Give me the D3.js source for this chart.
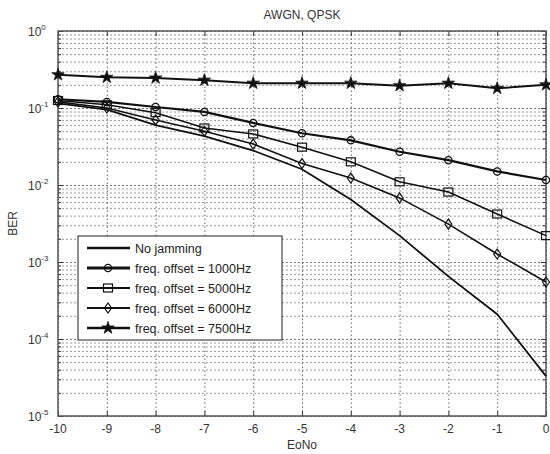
<!DOCTYPE html>
<html>
<head>
<meta charset="utf-8">
<script src="https://cdn.jsdelivr.net/npm/d3@7"></script>
<style>
  body { margin: 0; background: #fff; }
  svg { font-family: "Liberation Sans", Arial, sans-serif; }
</style>
</head>
<body>
<div id="chart"></div>
<script>
// data
let ebno = [-10, -9, -8, -7, -6, -5, -4, -3, -2, -1, 0]
let ber_nojam = [0.115, 0.095, 0.06, 0.043, 0.028, 0.016, 0.0065, 0.0022, 0.00065, 0.00021, 0.000033]
let ber_1000 = [0.13, 0.12, 0.103, 0.089, 0.064, 0.047, 0.038, 0.027, 0.021, 0.015, 0.0116]
let ber_5000 = [0.125, 0.11, 0.087, 0.055, 0.046, 0.031, 0.02, 0.011, 0.0081, 0.0042, 0.0022]
let ber_6000 = [0.12, 0.1, 0.07, 0.05, 0.034, 0.019, 0.0123, 0.0068, 0.0031, 0.00127, 0.00055]
let ber_7500 = [0.27, 0.25, 0.245, 0.23, 0.21, 0.21, 0.21, 0.195, 0.21, 0.18, 0.2]
let legend_labels = ['No jamming', 'freq. offset = 1000Hz', 'freq. offset = 5000Hz', 'freq. offset = 6000Hz', 'freq. offset = 7500Hz']
let x_ticks = [-10, -9, -8, -7, -6, -5, -4, -3, -2, -1, 0]
let y_exps = [0, -1, -2, -3, -4, -5]

let series = [
  { values: ber_nojam, marker: null, width: 1.8 },
  { values: ber_1000, marker: 'circle', width: 2.2 },
  { values: ber_5000, marker: 'square', width: 1.6 },
  { values: ber_6000, marker: 'diamond', width: 1.6 },
  { values: ber_7500, marker: 'star', width: 2.0 }
]

let W = 550, H = 454
let plotL = 58, plotR = 546, plotT = 31, plotB = 416

let svg = d3.select('#chart')
  .append('svg')
  .attr('width', W)
  .attr('height', H)

let x = d3.scaleLinear().domain([-10, 0]).range([plotL, plotR])
let y = d3.scaleLog().domain([1e-5, 1]).range([plotB, plotT])

// minor + major horizontal grid
let y_all = y.ticks()
let y_major = y_exps.map(e => Math.pow(10, e))
let y_minor = y_all.filter(v => !y_major.some(m => Math.abs(m - v) / v < 1e-6))

svg.append('g')
  .attr('transform', `translate(${plotL},0)`)
  .call(d3.axisLeft(y).tickValues(y_minor).tickSize(-(plotR - plotL)).tickFormat(''))
  .call(g => g.select('.domain').remove())
  .call(g => g.selectAll('line').attr('stroke', '#999').attr('stroke-dasharray', '2,2'))

svg.append('g')
  .attr('transform', `translate(${plotL},0)`)
  .call(d3.axisLeft(y).tickValues(y_major).tickSize(-(plotR - plotL)).tickFormat(''))
  .call(g => g.select('.domain').remove())
  .call(g => g.selectAll('line').attr('stroke', '#777').attr('stroke-dasharray', '2,2'))

// vertical grid
svg.append('g')
  .attr('transform', `translate(0,${plotB})`)
  .call(d3.axisBottom(x).tickValues(x_ticks).tickSize(-(plotB - plotT)).tickFormat(''))
  .call(g => g.select('.domain').remove())
  .call(g => g.selectAll('line').attr('stroke', '#666').attr('stroke-dasharray', '1.5,2.5'))

// inward ticks
svg.append('g')
  .attr('transform', `translate(0,${plotB})`)
  .call(d3.axisBottom(x).tickValues(x_ticks).tickSize(-5).tickFormat(''))
  .call(g => g.select('.domain').remove())
  .call(g => g.selectAll('line').attr('stroke', '#333'))
svg.append('g')
  .attr('transform', `translate(0,${plotT})`)
  .call(d3.axisTop(x).tickValues(x_ticks).tickSize(-5).tickFormat(''))
  .call(g => g.select('.domain').remove())
  .call(g => g.selectAll('line').attr('stroke', '#333'))
svg.append('g')
  .attr('transform', `translate(${plotL},0)`)
  .call(d3.axisLeft(y).tickValues(y_major).tickSize(-5).tickFormat(''))
  .call(g => g.select('.domain').remove())
  .call(g => g.selectAll('line').attr('stroke', '#333'))
svg.append('g')
  .attr('transform', `translate(${plotL},0)`)
  .call(d3.axisLeft(y).tickValues(y_minor).tickSize(-3).tickFormat(''))
  .call(g => g.select('.domain').remove())
  .call(g => g.selectAll('line').attr('stroke', '#333'))
svg.append('g')
  .attr('transform', `translate(${plotR},0)`)
  .call(d3.axisRight(y).tickValues(y_major).tickSize(-5).tickFormat(''))
  .call(g => g.select('.domain').remove())
  .call(g => g.selectAll('line').attr('stroke', '#333'))
svg.append('g')
  .attr('transform', `translate(${plotR},0)`)
  .call(d3.axisRight(y).tickValues(y_minor).tickSize(-3).tickFormat(''))
  .call(g => g.select('.domain').remove())
  .call(g => g.selectAll('line').attr('stroke', '#333'))

// frame
svg.append('rect')
  .attr('x', plotL)
  .attr('y', plotT)
  .attr('width', plotR - plotL)
  .attr('height', plotB - plotT)
  .attr('fill', 'none')
  .attr('stroke', '#555')
  .attr('stroke-width', 1.5)

// x tick labels
svg.append('g')
  .selectAll('text')
  .data(x_ticks)
  .join('text')
  .attr('x', d => x(d))
  .attr('y', plotB + 17)
  .attr('text-anchor', 'middle')
  .attr('font-size', 12)
  .attr('fill', '#333')
  .text(d => d)

// y tick labels 10^n
let ylab = svg.append('g')
  .selectAll('text')
  .data(y_exps)
  .join('text')
  .attr('x', plotL - 30)
  .attr('y', d => y(Math.pow(10, d)) + 5)
  .attr('font-size', 12)
  .attr('fill', '#333')
ylab.append('tspan').text('10')
ylab.append('tspan')
  .attr('dy', -6)
  .attr('font-size', 8)
  .text(d => d)

// titles
svg.append('text')
  .attr('x', (plotL + plotR) / 2)
  .attr('y', 19)
  .attr('text-anchor', 'middle')
  .attr('font-size', 12)
  .attr('fill', '#333')
  .text('AWGN, QPSK')
svg.append('text')
  .attr('x', (plotL + plotR) / 2)
  .attr('y', 449)
  .attr('text-anchor', 'middle')
  .attr('font-size', 12)
  .attr('fill', '#333')
  .text('EoNo')
svg.append('text')
  .attr('transform', `translate(17,${(plotT + plotB) / 2}) rotate(-90)`)
  .attr('text-anchor', 'middle')
  .attr('font-size', 12)
  .attr('fill', '#333')
  .text('BER')

// marker drawing helper
function drawMarker(g, type, cx, cy) {
  if (type === 'circle') {
    g.append('circle').attr('cx', cx).attr('cy', cy).attr('r', 3.6)
      .attr('fill', 'none').attr('stroke', '#111').attr('stroke-width', 1.3)
  } else if (type === 'square') {
    g.append('rect').attr('x', cx - 4.5).attr('y', cy - 4).attr('width', 9).attr('height', 8)
      .attr('fill', 'none').attr('stroke', '#111').attr('stroke-width', 1.2)
  } else if (type === 'diamond') {
    g.append('path').attr('d', `M${cx},${cy - 5} L${cx + 3.5},${cy} L${cx},${cy + 5} L${cx - 3.5},${cy} Z`)
      .attr('fill', 'none').attr('stroke', '#111').attr('stroke-width', 1.2)
  } else if (type === 'star') {
    g.append('path').attr('d', d3.symbol(d3.symbolStar, 48)())
      .attr('transform', `translate(${cx},${cy})`)
      .attr('fill', '#111').attr('stroke', '#111').attr('stroke-width', 0.8)
  }
}

// curves
let line = d3.line()
  .x(d => x(d[0]))
  .y(d => y(d[1]))

series.forEach(s => {
  let pts = ebno.map((e, i) => [e, s.values[i]])
  svg.append('path')
    .datum(pts)
    .attr('d', line)
    .attr('fill', 'none')
    .attr('stroke', '#111')
    .attr('stroke-width', s.width)
  if (s.marker) {
    let g = svg.append('g')
    pts.forEach(p => drawMarker(g, s.marker, x(p[0]), y(p[1])))
  }
})

// legend
let lx = 78, ly = 236, lw = 204, lh = 104
svg.append('rect')
  .attr('x', lx)
  .attr('y', ly)
  .attr('width', lw)
  .attr('height', lh)
  .attr('fill', '#fff')
  .attr('stroke', '#444')
  .attr('stroke-width', 1.2)

series.forEach((s, i) => {
  let yy = ly + 12 + i * 20
  let g = svg.append('g')
  g.append('line')
    .attr('x1', lx + 9).attr('x2', lx + 52)
    .attr('y1', yy).attr('y2', yy)
    .attr('stroke', '#111')
    .attr('stroke-width', s.width + 0.6)
  if (s.marker) drawMarker(g, s.marker, lx + 30, yy)
  g.append('text')
    .attr('x', lx + 57)
    .attr('y', yy + 4.5)
    .attr('font-size', 12.5)
    .attr('fill', '#222')
    .text(legend_labels[i])
})
</script>
</body>
</html>
